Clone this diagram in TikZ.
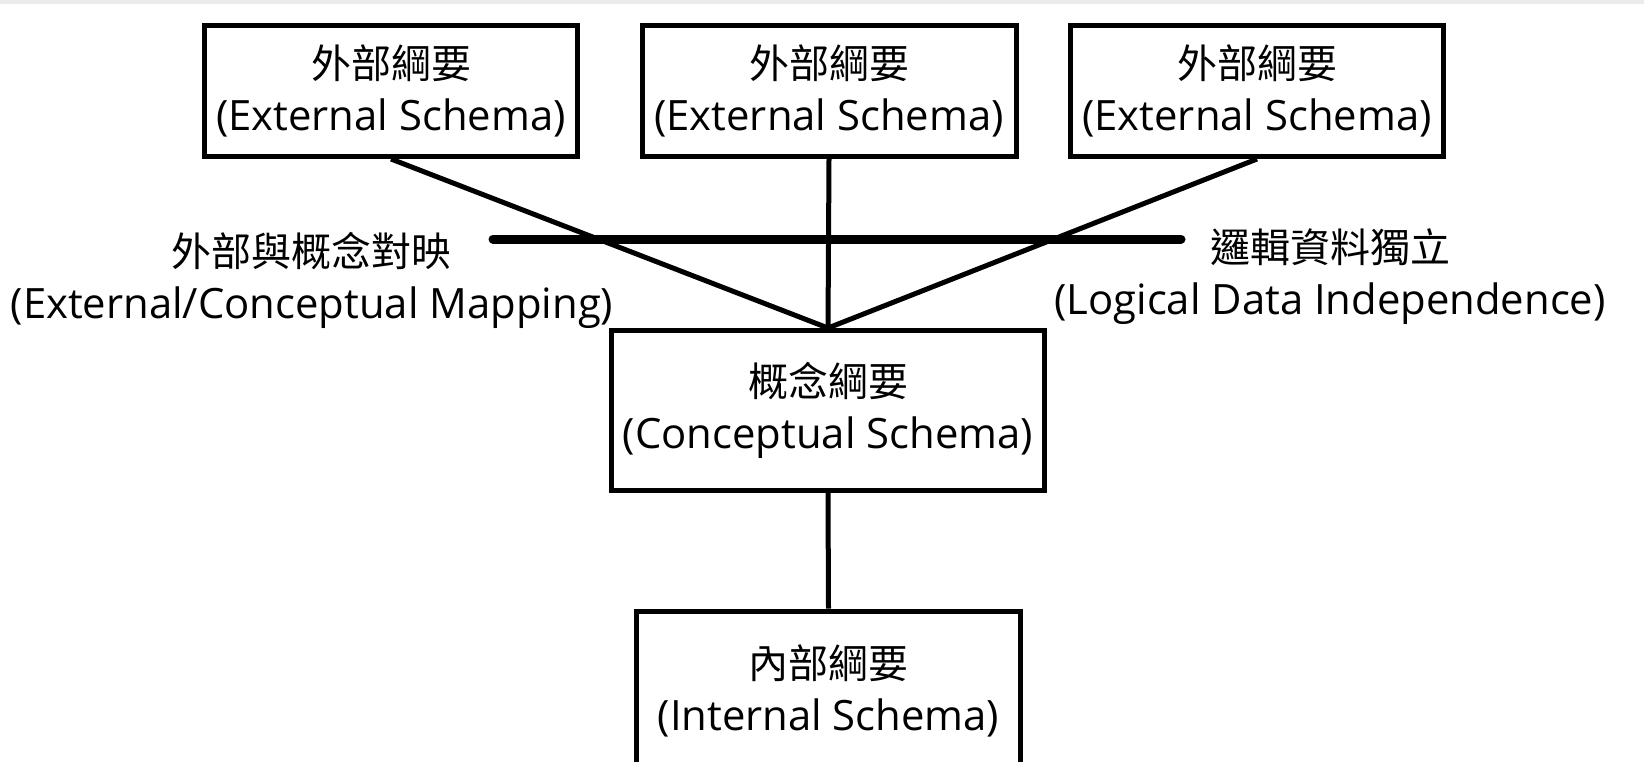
\documentclass[tikz,border=0pt]{standalone}
\usepackage{fontspec}
\setmainfont{Open Sans}[Scale=1.045]
\newfontfamily\cjk{Noto Sans CJK TC}
\begin{document}
\begin{tikzpicture}[x=1pt,y=-1pt,
  schemabox/.style={draw=black, line width=5pt, fill=white, align=center,
    inner sep=0pt, font=\fontsize{40}{52}\selectfont},
  link/.style={draw=black, line width=5pt},
  bar/.style={draw=black, line width=9pt, line cap=round},
  caption/.style={align=center, inner sep=0pt, font=\fontsize{40}{52}\selectfont}]
  \useasboundingbox (0,0) rectangle (1644,761);
  \clip (0,0) rectangle (1644,761);
  \fill[black!8] (0,0) rectangle (1644,4);

  % external level
  \node[schemabox, minimum width=373pt, minimum height=131pt] (e1) at (391,91)
    {{\cjk 外部綱要}\\(External Schema)};
  \node[schemabox, minimum width=374pt, minimum height=131pt] (e2) at (829,91)
    {{\cjk 外部綱要}\\(External Schema)};
  \node[schemabox, minimum width=373pt, minimum height=131pt] (e3) at (1257,91)
    {{\cjk 外部綱要}\\(External Schema)};

  % conceptual level
  \node[schemabox, minimum width=433pt, minimum height=160pt] (c) at (828,410.5)
    {{\cjk 概念綱要}\\(Conceptual Schema)};

  % internal level
  \node[schemabox, minimum width=384pt, minimum height=160pt] (i) at (828.5,691)
    {{\cjk 內部綱要}\\(Internal Schema)};

  % mappings
  \draw[link] (e1.south) -- (c.north);
  \draw[link] (e2.south) -- (c.north);
  \draw[link] (e3.south) -- (c.north);
  \draw[link] (c.south) -- (i.north);

  % independence divider
  \coordinate (barL) at (493,239);
  \coordinate (barR) at (1181,239);
  \draw[bar] (barL) -- (barR);

  \node[caption] (mapL) at (312,280)
    {{\cjk 外部與概念對映}\\(External/Conceptual Mapping)};
  \node[caption] (indR) at (1330,277)
    {{\cjk 邏輯資料獨立}\\(Logical Data Independence)};
\end{tikzpicture}
\end{document}
